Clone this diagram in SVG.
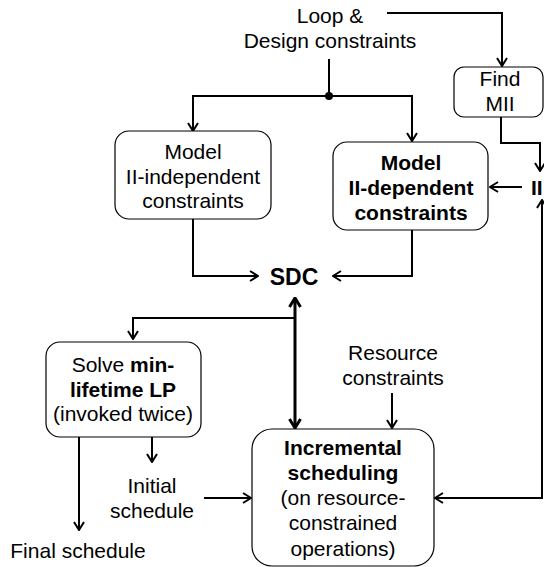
<svg xmlns="http://www.w3.org/2000/svg" width="544" height="567" viewBox="0 0 544 567">
<style>
text{font-family:"Liberation Sans",Arial,sans-serif;font-size:21px;fill:#000;text-anchor:middle}
.b{font-weight:bold}
.box{fill:#fff;stroke:#000;stroke-width:1.2}
.c{fill:none;stroke:#000;stroke-width:2}
.t{fill:none;stroke:#000;stroke-width:3}
</style>
<defs>
<marker id="arr" viewBox="0 0 10 12" refX="9" refY="6" markerWidth="10" markerHeight="12" markerUnits="userSpaceOnUse" orient="auto-start-reverse">
<path d="M1,1 L9,6 L1,11" fill="none" stroke="#000" stroke-width="2"/>
</marker>
<marker id="arrT" viewBox="0 0 12 14" refX="10.5" refY="7" markerWidth="12" markerHeight="14" markerUnits="userSpaceOnUse" orient="auto-start-reverse">
<path d="M1.5,1.5 L10.5,7 L1.5,12.5" fill="none" stroke="#000" stroke-width="3"/>
</marker>
</defs>
<g id="connectors">
<path class="c" d="M387,13 H502 V66" marker-end="url(#arr)"/>
<path class="c" d="M329,59 V96"/>
<circle cx="329" cy="96" r="4" fill="#000"/>
<path class="c" d="M329,96 H193 V131" marker-end="url(#arr)"/>
<path class="c" d="M329,96 H412 V141" marker-end="url(#arr)"/>
<path class="c" d="M501,117 V143 H540 V171" marker-end="url(#arr)"/>
<path class="c" d="M522,187 H490" marker-end="url(#arr)"/>
<path class="c" d="M193,219 V276 H258" marker-end="url(#arr)"/>
<path class="c" d="M412,230 V276 H333" marker-end="url(#arr)"/>
<path class="t" d="M295,298 V428" marker-start="url(#arrT)" marker-end="url(#arrT)"/>
<path class="c" d="M295,318 H133 V339" marker-end="url(#arr)"/>
<path class="c" d="M79,437 V530" marker-end="url(#arr)"/>
<path class="c" d="M152,437 V462" marker-end="url(#arr)"/>
<path class="c" d="M204,498 H251" marker-end="url(#arr)"/>
<path class="c" d="M392,393 V428" marker-end="url(#arr)"/>
<path class="c" d="M435,498 H542 V200" marker-start="url(#arr)" marker-end="url(#arr)"/>
</g>
<g id="loop-design">
<text x="330" y="23">Loop &amp;</text>
<text x="330" y="48">Design constraints</text>
</g>
<g id="find-mii">
<rect class="box" x="454" y="67" width="89" height="50" rx="10"/>
<text x="500" y="86">Find</text>
<text x="500" y="111">MII</text>
</g>
<g id="model-ii-independent">
<rect class="box" x="115" y="131" width="156" height="88" rx="14"/>
<text x="193" y="159">Model</text>
<text x="193" y="184">II-independent</text>
<text x="193" y="208">constraints</text>
</g>
<g id="model-ii-dependent">
<rect class="box" x="333" y="142" width="155" height="88" rx="14"/>
<text class="b" x="411" y="170">Model</text>
<text class="b" x="411" y="195">II-dependent</text>
<text class="b" x="411" y="220">constraints</text>
</g>
<g id="ii">
<text class="b" x="531" y="195" style="text-anchor:start">II</text>
</g>
<g id="sdc">
<text class="b" x="294" y="285" style="font-size:23px">SDC</text>
</g>
<g id="solve-lp">
<rect class="box" x="46" y="342" width="155" height="95" rx="14"/>
<text x="123" y="372">Solve <tspan class="b">min-</tspan></text>
<text class="b" x="123" y="397">lifetime LP</text>
<text x="123" y="421">(invoked twice)</text>
</g>
<g id="resource-constraints">
<text x="393" y="360">Resource</text>
<text x="393" y="385">constraints</text>
</g>
<g id="initial-schedule">
<text x="152" y="493">Initial</text>
<text x="152" y="518">schedule</text>
</g>
<g id="final-schedule">
<text x="78" y="558">Final schedule</text>
</g>
<g id="incremental-scheduling">
<rect class="box" x="252" y="429" width="182" height="137" rx="20"/>
<text class="b" x="343" y="455">Incremental</text>
<text class="b" x="343" y="480">scheduling</text>
<text x="343" y="505">(on resource-</text>
<text x="343" y="530">constrained</text>
<text x="343" y="556">operations)</text>
</g>
</svg>
